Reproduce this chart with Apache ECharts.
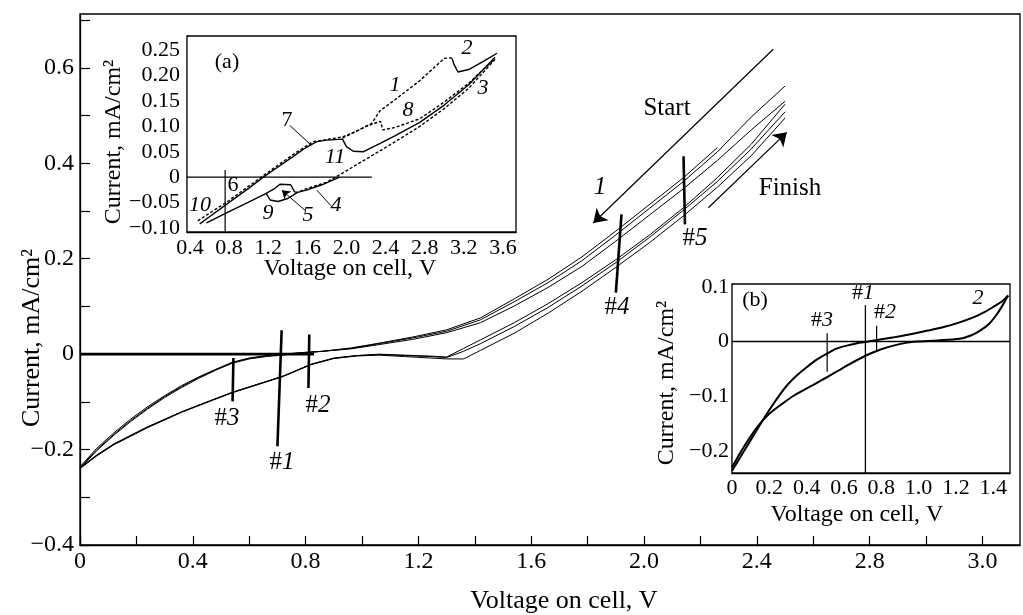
<!DOCTYPE html>
<html>
<head>
<meta charset="utf-8">
<script src="https://cdn.jsdelivr.net/npm/echarts@6/dist/echarts.min.js"></script>
<style>
  html, body { margin: 0; padding: 0; background: #fff; }
  #chart { width: 1023px; height: 615px; }
</style>
</head>
<body>
<div id="chart"></div>
<script>
// ---- main plot: ticks and labels
var mainXTicks = [0, 0.2, 0.4, 0.6, 0.8, 1.0, 1.2, 1.4, 1.6, 1.8, 2.0, 2.2, 2.4, 2.6, 2.8, 3.0, 3.2];
var mainXLabelAt = [0, 0.4, 0.8, 1.2, 1.6, 2.0, 2.4, 2.8, 3.2];
var mainXLabels = ['0', '0.4', '0.8', '1.2', '1.6', '2.0', '2.4', '2.8', '3.0'];
var mainYTicks = [-0.4, -0.3, -0.2, -0.1, 0, 0.1, 0.2, 0.3, 0.4, 0.5, 0.6, 0.7];
var mainYLabelAt = [-0.4, -0.2, 0, 0.2, 0.4, 0.6];
var mainYLabels = ['\u22120.4', '\u22120.2', '0', '0.2', '0.4', '0.6'];

// ---- main plot: curves (upper branches)
var mainXU = [0, 0.06, 0.12, 0.18, 0.24, 0.30, 0.36, 0.42, 0.48, 0.54, 0.60, 0.66, 0.72, 0.78, 0.86, 0.96, 1.06, 1.18, 1.30, 1.42, 1.54, 1.66, 1.78, 1.90, 2.02, 2.14, 2.26, 2.38, 2.50];
var mainU1 = [-0.238, -0.200, -0.168, -0.139, -0.113, -0.089, -0.068, -0.049, -0.033, -0.018, -0.009, -0.004, -0.001, 0.003, 0.006, 0.012, 0.022, 0.034, 0.048, 0.072, 0.110, 0.150, 0.196, 0.250, 0.306, 0.362, 0.424, 0.497, 0.562];
var mainU2 = [-0.236, -0.197, -0.165, -0.136, -0.110, -0.087, -0.066, -0.048, -0.032, -0.017, -0.008, -0.003, 0.000, 0.003, 0.006, 0.011, 0.020, 0.031, 0.045, 0.066, 0.101, 0.140, 0.184, 0.237, 0.292, 0.347, 0.406, 0.470, 0.530];
var mainU3 = [-0.240, -0.202, -0.170, -0.141, -0.115, -0.091, -0.070, -0.051, -0.034, -0.019, -0.010, -0.005, -0.002, 0.002, 0.006, 0.013, 0.023, 0.036, 0.051, 0.076, 0.116, 0.157, 0.204, 0.258, 0.314, 0.370, 0.433];
// lower branches
var mainXD = [0, 0.06, 0.12, 0.24, 0.36, 0.46, 0.54, 0.63, 0.72, 0.82, 0.90, 0.98, 1.06, 1.15, 1.24, 1.30, 1.36, 1.42, 1.54, 1.66, 1.78, 1.90, 2.02, 2.14, 2.26, 2.38, 2.50];
var mainD1 = [-0.240, -0.213, -0.190, -0.154, -0.122, -0.099, -0.081, -0.064, -0.047, -0.022, -0.009, -0.003, 0.000, -0.002, -0.004, -0.006, 0.012, 0.030, 0.066, 0.106, 0.150, 0.198, 0.250, 0.307, 0.370, 0.440, 0.524];
var mainD2 = [-0.238, -0.211, -0.188, -0.152, -0.121, -0.098, -0.080, -0.063, -0.046, -0.021, -0.009, -0.004, -0.002, -0.005, -0.008, -0.010, -0.010, 0.008, 0.044, 0.086, 0.132, 0.182, 0.234, 0.290, 0.350, 0.416, 0.495];
var mainD3 = [-0.239, -0.212, -0.189, -0.153, -0.121, -0.098, -0.080, -0.063, -0.046, -0.021, -0.008, -0.003, -0.001, -0.003, -0.005, -0.007, 0.006, 0.022, 0.058, 0.098, 0.143, 0.192, 0.245, 0.302, 0.362, 0.430, 0.508];
var mainZero = [[0, 0], [0.83, 0]];
// cut marks #1..#5
var mark1 = [[0.715, 0.05], [0.70, -0.193]];
var mark2 = [[0.813, 0.041], [0.81, -0.071]];
var mark3 = [[0.544, -0.008], [0.541, -0.099]];
var mark4 = [[1.92, 0.293], [1.90, 0.129]];
var mark5 = [[2.14, 0.415], [2.145, 0.272]];
// sweep arrows
var arrowStart = [[2.458, 0.639], [1.82, 0.275]];
var arrowFinish = [[2.228, 0.307], [2.506, 0.465]];

// ---- inset (a)
var aXTicks = [0.4, 0.8, 1.2, 1.6, 2.0, 2.4, 2.8, 3.2, 3.6];
var aXLabels = ['0.4', '0.8', '1.2', '1.6', '2.0', '2.4', '2.8', '3.2', '3.6'];
var aYTicks = [-0.10, -0.05, 0, 0.05, 0.10, 0.15, 0.20, 0.25];
var aYLabels = ['\u22120.10', '\u22120.05', '0', '0.05', '0.10', '0.15', '0.20', '0.25'];
var aFwd = [[0.50, -0.092], [0.6, -0.078], [0.7, -0.064], [0.8, -0.050], [0.9, -0.036], [1.0, -0.022], [1.15, 0.0], [1.3, 0.02], [1.45, 0.04], [1.56, 0.055], [1.64, 0.064], [1.7, 0.070], [1.8, 0.073], [1.96, 0.075],
  [2.0, 0.06], [2.07, 0.051], [2.17, 0.050], [2.34, 0.066], [2.5, 0.082], [2.75, 0.108], [3.0, 0.142], [3.25, 0.182], [3.52, 0.236]];
var aDash1 = [[0.48, -0.086], [0.8, -0.046], [1.15, 0.003], [1.45, 0.044], [1.66, 0.070], [1.96, 0.079], [2.12, 0.092], [2.26, 0.106], [2.34, 0.130], [2.5, 0.153], [2.75, 0.190], [3.0, 0.234], [3.08, 0.235]];
var aCurve2 = [[3.08, 0.234], [3.1, 0.222], [3.14, 0.207], [3.25, 0.212], [3.4, 0.228], [3.54, 0.244]];
var aDash8 = [[1.96, 0.077], [2.2, 0.100], [2.35, 0.110], [2.37, 0.093], [2.5, 0.098], [2.75, 0.115], [3.0, 0.148], [3.25, 0.185], [3.5, 0.230]];
var aRetDash = [[3.52, 0.232], [3.25, 0.175], [3.0, 0.135], [2.75, 0.100], [2.5, 0.070], [2.24, 0.040], [1.96, 0.008], [1.8, -0.010], [1.6, -0.022], [1.5, -0.030]];
var aRet = [[1.93, 0.0], [1.75, -0.015], [1.6, -0.025], [1.5, -0.030], [1.47, -0.029], [1.43, -0.015], [1.32, -0.014], [1.27, -0.022], [1.18, -0.032], [1.0, -0.049], [0.8, -0.068], [0.57, -0.090]];
var aCurve9 = [[1.5, -0.030], [1.4, -0.042], [1.3, -0.048], [1.22, -0.045], [1.18, -0.032]];
var aZero = [[0.37, 0], [2.26, 0]];
var aVert = [[0.76, 0.014], [0.76, -0.108]];
var aLead7 = [[1.42, 0.102], [1.64, 0.063]];
var aLead4 = [[1.84, -0.056], [1.70, -0.026]];
var aLead5 = [[1.576, -0.065], [1.34, -0.026]];

// ---- inset (b)
var bXTicks = [0, 0.2, 0.4, 0.6, 0.8, 1.0, 1.2, 1.4];
var bXLabels = ['0', '0.2', '0.4', '0.6', '0.8', '1.0', '1.2', '1.4'];
var bYTicks = [-0.2, -0.15, -0.1, -0.05, 0, 0.05, 0.1];
var bYLabelAt = [-0.2, -0.1, 0, 0.1];
var bYLabels = ['\u22120.2', '\u22120.1', '0', '0.1'];
var bUp = [[0, -0.236], [0.05, -0.208], [0.1, -0.180], [0.15, -0.152], [0.2, -0.125], [0.25, -0.100], [0.3, -0.078], [0.35, -0.061], [0.4, -0.047], [0.45, -0.034], [0.51, -0.022], [0.56, -0.013], [0.62, -0.007], [0.67, -0.003], [0.715, -0.001],
  [0.8, 0.004], [0.87, 0.008], [0.95, 0.013], [1.05, 0.020], [1.14, 0.027], [1.22, 0.035], [1.3, 0.045], [1.35, 0.053], [1.4, 0.063], [1.45, 0.074], [1.48, 0.084]];
var bDn = [[0, -0.230], [0.05, -0.200], [0.1, -0.173], [0.15, -0.150], [0.2, -0.132], [0.26, -0.116], [0.33, -0.099], [0.42, -0.082], [0.51, -0.065], [0.6, -0.047], [0.715, -0.026], [0.8, -0.014], [0.87, -0.007], [0.94, -0.002], [0.99, 0.0],
  [1.1, 0.002], [1.22, 0.005], [1.28, 0.011], [1.33, 0.020], [1.38, 0.033], [1.42, 0.050], [1.45, 0.066], [1.48, 0.084]];
var bZero = [[0, 0], [1.49, 0]];
var bVert = [[0.715, 0.066], [0.715, -0.24]];
var bMark3 = [[0.51, 0.015], [0.51, -0.055]];
var bMark2 = [[0.775, 0.029], [0.775, -0.018]];

var chart = echarts.init(document.getElementById('chart'));
var FONT = 'Liberation Serif';

function zip(xs, ys) {
  var out = [];
  for (var i = 0; i < ys.length; i++) {
    out.push([xs[i], ys[i]]);
  }
  return out;
}

function pick(at, labels) {
  return function (v) {
    for (var i = 0; i < at.length; i++) {
      if (Math.abs(at[i] - v) < 1e-6) return labels[i];
    }
    return '';
  };
}

function line(g, data, width, type, smooth) {
  return {
    type: 'line',
    xAxisIndex: g,
    yAxisIndex: g,
    data: data,
    symbol: 'none',
    smooth: smooth || false,
    silent: true,
    animation: false,
    z: 5,
    lineStyle: { color: '#000', width: width, type: type || 'solid' }
  };
}

function xAxis(g, min, max, ticks, labelAt, labels, size, margin) {
  return {
    type: 'value', gridIndex: g, min: min, max: max,
    axisLine: { show: true, onZero: false, lineStyle: { color: '#000', width: 1.3 } },
    axisTick: { show: true, inside: true, length: 9, customValues: ticks, lineStyle: { color: '#000', width: 1.2 } },
    axisLabel: { customValues: labelAt, formatter: pick(labelAt, labels), color: '#000', fontFamily: FONT, fontSize: size, margin: margin },
    splitLine: { show: false }
  };
}

function yAxis(g, min, max, ticks, labelAt, labels, size, margin) {
  return {
    type: 'value', gridIndex: g, min: min, max: max,
    axisLine: { show: true, onZero: false, lineStyle: { color: '#000', width: 1.3 } },
    axisTick: { show: true, inside: true, length: 10, customValues: ticks, lineStyle: { color: '#000', width: 1.2 } },
    axisLabel: { customValues: labelAt, formatter: pick(labelAt, labels), color: '#000', fontFamily: FONT, fontSize: size, margin: margin },
    splitLine: { show: false }
  };
}

function txt(x, y, text, size, italic, rot) {
  return {
    type: 'text', x: x, y: y, rotation: rot || 0, z: 20,
    style: {
      text: text, fill: '#000', fontFamily: FONT, fontSize: size,
      fontStyle: italic ? 'italic' : 'normal',
      align: 'center', verticalAlign: 'middle'
    }
  };
}

function hashTxt(x, y, n, size) {
  return {
    type: 'text', x: x, y: y, z: 20,
    style: {
      text: '{h|#}{d|' + n + '}', align: 'center', verticalAlign: 'middle',
      rich: {
        h: { fontFamily: FONT, fontSize: size, fill: '#000' },
        d: { fontFamily: FONT, fontSize: size, fontStyle: 'italic', fill: '#000' }
      }
    }
  };
}

var mainSeries = [
  line(0, zip(mainXU, mainU1), 1),
  line(0, zip(mainXU, mainU2), 1),
  line(0, zip(mainXU, mainU3), 1),
  line(0, zip(mainXD, mainD1), 1),
  line(0, zip(mainXD, mainD2), 1),
  line(0, zip(mainXD, mainD3), 1),
  line(0, mark1, 2.6),
  line(0, mark2, 2.6),
  line(0, mark3, 2.6),
  line(0, mark4, 2.6),
  line(0, mark5, 2.6)
];
var zeroSeries = line(0, mainZero, 2.6);
zeroSeries.markLine = {
  silent: true, animation: false, symbol: ['none', 'arrow'], symbolSize: 13,
  label: { show: false },
  lineStyle: { color: '#000', width: 1.2, type: 'solid' },
  data: [
    [{ coord: arrowStart[0] }, { coord: arrowStart[1] }],
    [{ coord: arrowFinish[0] }, { coord: arrowFinish[1] }]
  ]
};
mainSeries.push(zeroSeries);

var aZeroSeries = line(1, aZero, 1.2);
aZeroSeries.markLine = {
  silent: true, animation: false, symbol: ['none', 'none'], symbolSize: 8,
  label: { show: false },
  lineStyle: { color: '#000', width: 1, type: 'solid' },
  data: [
    [{ coord: aLead7[0] }, { coord: aLead7[1] }],
    [{ coord: aLead4[0] }, { coord: aLead4[1] }],
    [{ coord: aLead5[0], symbol: 'none' }, { coord: aLead5[1], symbol: 'arrow' }]
  ]
};

var insetASeries = [
  line(1, aFwd, 1.4),
  line(1, aDash1, 1.4, [3, 2]),
  line(1, aCurve2, 1.4),
  line(1, aDash8, 1.4, [3, 2]),
  line(1, aRetDash, 1.4, [3, 2]),
  line(1, aRet, 1.4),
  line(1, aCurve9, 1.4),
  line(1, aVert, 1.2),
  aZeroSeries
];

var insetBSeries = [
  line(2, bUp, 2, 'solid', 0.3),
  line(2, bDn, 2, 'solid', 0.3),
  line(2, bZero, 1.3),
  line(2, bVert, 1.3),
  line(2, bMark3, 1.2),
  line(2, bMark2, 1.2)
];

var option = {
  backgroundColor: '#fff',
  animation: false,
  grid: [
    { left: 80, top: 14, width: 940, height: 531, show: true, borderColor: '#000', borderWidth: 1.3, backgroundColor: 'transparent' },
    { left: 187, top: 36, width: 329, height: 196, show: true, borderColor: '#000', borderWidth: 1.3, backgroundColor: '#fff', z: 3 },
    { left: 732, top: 284, width: 278, height: 189, show: true, borderColor: '#000', borderWidth: 1.3, backgroundColor: '#fff', z: 3 }
  ],
  xAxis: [
    xAxis(0, 0, 3.333, mainXTicks, mainXLabelAt, mainXLabels, 24, 5),
    xAxis(1, 0.37, 3.734, aXTicks, aXTicks, aXLabels, 22, 5),
    xAxis(2, 0, 1.49, bXTicks, bXTicks, bXLabels, 22, 4)
  ],
  yAxis: [
    yAxis(0, -0.4, 0.713, mainYTicks, mainYLabelAt, mainYLabels, 24, 6),
    yAxis(1, -0.108, 0.278, aYTicks, aYTicks, aYLabels, 22, 7),
    yAxis(2, -0.24, 0.105, bYTicks, bYLabelAt, bYLabels, 22, 3)
  ],
  series: mainSeries.concat(insetASeries, insetBSeries),
  graphic: [
    // axis titles
    txt(32, 338, 'Current, mA/cm\u00b2', 26, false, Math.PI / 2),
    txt(564, 601, 'Voltage on cell, V', 26),
    txt(114, 142, 'Current, mA/cm\u00b2', 24, false, Math.PI / 2),
    txt(350, 269, 'Voltage on cell, V', 24),
    txt(667, 383, 'Current, mA/cm\u00b2', 24, false, Math.PI / 2),
    txt(857, 515, 'Voltage on cell, V', 24),
    // main annotations
    txt(667, 108, 'Start', 25),
    txt(790, 188, 'Finish', 25),
    txt(600, 187, '1', 25, true),
    hashTxt(282, 462, '1', 25),
    hashTxt(318, 405, '2', 25),
    hashTxt(227, 418, '3', 25),
    hashTxt(617, 307, '4', 25),
    hashTxt(695, 238, '5', 25),
    // inset (a) annotations
    txt(227, 62, '(a)', 22),
    txt(395, 85, '1', 22, true),
    txt(467, 48, '2', 22, true),
    txt(483, 88, '3', 22, true),
    txt(408, 110, '8', 22, true),
    txt(287, 120, '7', 22),
    txt(335, 157, '11', 22, true),
    txt(233, 185, '6', 22),
    txt(200, 205, '10', 22, true),
    txt(268, 213, '9', 22, true),
    txt(308, 215, '5', 22, true),
    txt(336, 205, '4', 22, true),
    // inset (b) annotations
    txt(755, 300, '(b)', 22),
    hashTxt(863, 293, '1', 22),
    hashTxt(885, 312, '2', 22),
    hashTxt(822, 320, '3', 22),
    txt(978, 298, '2', 22, true)
  ]
};

chart.setOption(option);
</script>
</body>
</html>
